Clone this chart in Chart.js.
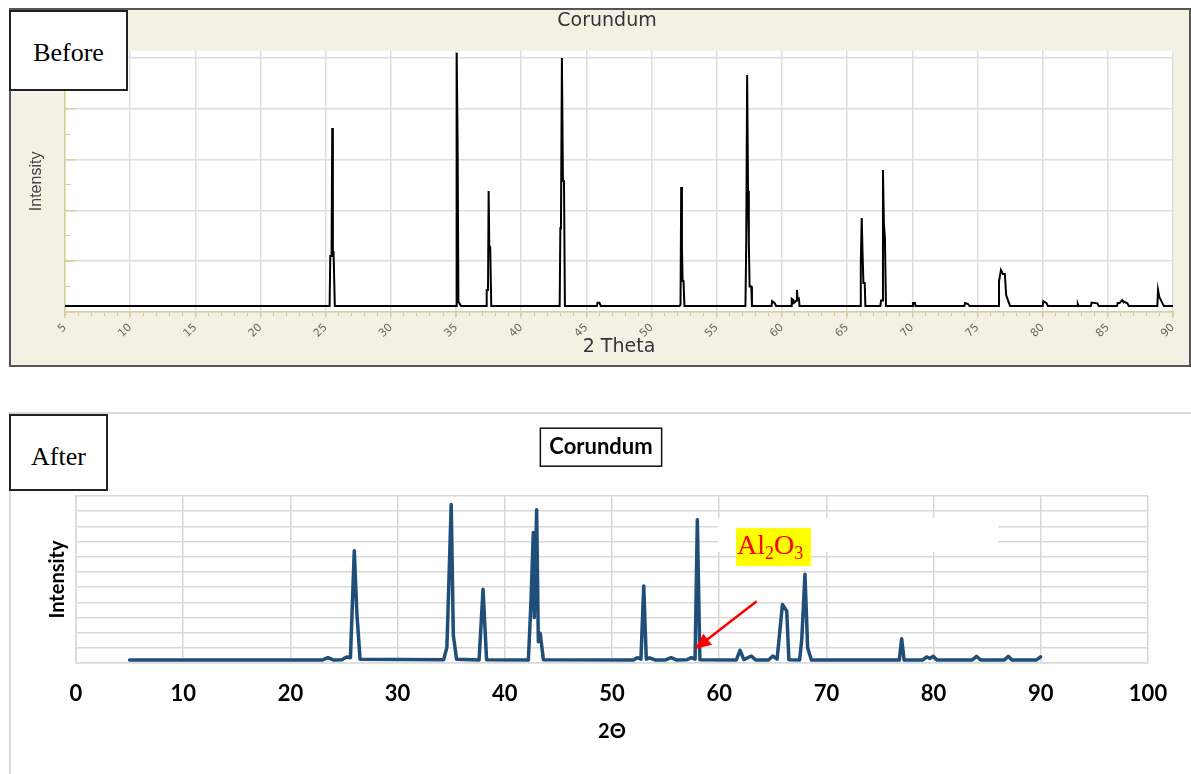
<!DOCTYPE html>
<html>
<head>
<meta charset="utf-8">
<script src="https://cdn.jsdelivr.net/npm/chart.js@4.4.1/dist/chart.umd.min.js"></script>
<style>
body { margin:0; width:1191px; height:774px; background:#fff; position:relative; overflow:hidden; }
#topBox { position:absolute; left:9px; top:8px; width:1182px; height:359px; border:2px solid #555; box-sizing:border-box; background:#f4f1e4; }
#botBox { position:absolute; left:9px; top:412px; width:1182px; height:362px; border-top:2px solid #d9d9d9; border-left:2px solid #d9d9d9; box-sizing:border-box; }
.holder { position:relative; width:100%; height:100%; }
.tag { position:absolute; border:2px solid #222; background:#fff; box-sizing:border-box; font-family:"Liberation Serif", serif; font-size:26px; display:flex; align-items:center; justify-content:center; }
#blank { position:absolute; left:718px; top:518px; width:280px; height:34px; background:#fff; }
#al2o3 { position:absolute; left:736px; top:528px; width:75px; height:38px; background:#ffff00; color:#ff0000; font-family:"Liberation Serif", serif; font-size:28px; line-height:34px; padding-left:1px; box-sizing:border-box; white-space:nowrap; }
#al2o3 sub { font-size:18px; vertical-align:-5px; line-height:0; }
</style>
</head>
<body>
<div id="topBox"><div class="holder"><canvas id="before"></canvas></div></div>
<div id="botBox"><div class="holder"><canvas id="after"></canvas></div></div>
<div class="tag" style="left:9px;top:10px;width:119px;height:81px;padding-top:5px;">Before</div>
<div class="tag" style="left:9px;top:414px;width:99px;height:77px;padding-top:9px;">After</div>
<div id="blank"></div>
<div id="al2o3">Al<sub>2</sub>O<sub>3</sub></div>
<script>
// "Before" pattern (2 theta, intensity)
var beforeTheta = [5, 25.3, 25.35, 25.45, 25.5, 25.55, 25.6, 25.7,
  35.0, 35.05, 35.12, 35.18, 35.25, 35.3, 35.38,
  37.3, 37.35, 37.45, 37.5, 37.55, 37.62, 37.7,
  42.95, 43.0, 43.05, 43.12, 43.2, 43.28, 43.35,
  45.8, 45.85, 46.0, 46.1,
  52.15, 52.22, 52.27, 52.33, 52.38, 52.45, 52.52,
  57.2, 57.26, 57.33, 57.4, 57.46, 57.52, 57.65, 57.7,
  59.2, 59.25, 59.45, 59.55,
  60.7, 60.75, 60.85, 60.9, 61.0, 61.1, 61.15, 61.2, 61.3, 61.35,
  66.0, 66.05, 66.12, 66.18, 66.25, 66.35, 66.4,
  67.55, 67.6, 67.7, 67.75, 67.82, 67.9, 67.98,
  70.0, 70.05, 70.2, 70.25,
  74.0, 74.05, 74.25, 74.4,
  76.6, 76.65, 76.8, 76.95, 77.1, 77.2, 77.35, 77.5,
  80.0, 80.05, 80.3, 80.4,
  82.65, 82.7, 82.75,
  83.7, 83.75, 84.2, 84.3,
  85.7, 85.75, 85.9, 86.1, 86.15, 86.5, 86.6,
  88.8, 88.85, 88.95, 89.15, 89.3, 90];
var beforeIntensity = [2.4, 2.4, 22, 22, 72.4, 22, 24, 2.4,
  2.4, 102, 65.7, 4, 3.5, 3.5, 2.4,
  2.4, 8.7, 8.7, 47.6, 25.6, 25.6, 2.4,
  2.4, 33, 36, 100, 51.6, 51.6, 2.4,
  2.4, 3.6, 3.6, 2.4,
  2.4, 3, 49.2, 25.6, 12.2, 12.2, 2.4,
  2.4, 27, 93.3, 47.6, 27, 10, 10, 2.4,
  2.4, 4.3, 3.5, 2.4,
  2.4, 5.2, 4.8, 3.5, 3.8, 4.5, 8.7, 5.4, 5.4, 2.4,
  2.4, 19.3, 37, 24, 11.4, 11.4, 2.4,
  2.4, 4.5, 4.5, 55.9, 35, 29, 2.4,
  2.4, 3.5, 3.5, 2.4,
  2.4, 3.5, 3.2, 2.4,
  2.4, 12, 16.5, 15, 15, 6.7, 4.5, 2.4,
  2.4, 4.3, 3.5, 2.4,
  2.4, 3.1, 2.4,
  2.4, 3.7, 3.4, 2.4,
  2.4, 3.5, 3.5, 4.7, 4.3, 3.4, 2.4,
  2.4, 8.7, 5.9, 3.9, 2.4, 2.4];

// "After" pattern
var afterTheta = [5, 23.0, 23.5, 24.0, 24.8, 25.25, 25.6, 25.96, 26.2, 26.5,
  34.3, 34.6, 35.0, 35.2, 35.5,
  37.6, 37.97, 38.3,
  42.2, 42.44, 42.66, 42.75, 42.97, 43.13, 43.3, 43.6,
  52.0, 52.36, 52.7, 52.96, 53.2, 53.5, 54.0,
  55.0, 55.5, 56.0, 57.0, 57.4, 57.75, 57.96, 58.2,
  61.6, 61.94, 62.3, 63.0, 63.4, 64.6, 65.0, 65.4, 65.9, 66.3, 66.5,
  67.5, 67.7, 68.0, 68.25, 68.6,
  76.8, 77.02, 77.25,
  79.0, 79.35, 79.65, 79.97, 80.3,
  83.6, 84.0, 84.4,
  86.6, 86.97, 87.3,
  89.6, 89.98];
var afterIntensity = [2, 2, 3.5, 2, 2.2, 4, 3.5, 74, 32.7, 2.5,
  2.2, 10.5, 104.4, 18.2, 2.5,
  2, 48.5, 2.2,
  2, 40, 86, 30, 101, 14, 19.6, 2.2,
  2, 3.5, 2.5, 50.7, 2.5, 3.4, 2,
  2, 3.5, 2, 2.2, 3.5, 2.5, 94.3, 2.2,
  2, 8.4, 2.2, 4.6, 2, 2, 4.6, 2.5, 38.6, 34.2, 2.2,
  2, 15.4, 58.4, 10.1, 2,
  2, 16, 2,
  2, 4, 3, 4.4, 2,
  2, 4.4, 2,
  2, 4.4, 2,
  2, 4];

// Al2O3 arrow, in data units (tail, tip)
var arrowFrom = [63.5, 40.6];
var arrowTo = [57.7, 9];

var tan = '#d8cf98';

var plotBackground = {
  id: 'plotBackground',
  beforeDraw: function (chart) {
    var a = chart.chartArea, ctx = chart.ctx;
    ctx.save();
    ctx.fillStyle = '#fff';
    ctx.fillRect(a.left, a.top, a.right - a.left, a.bottom - a.top);
    ctx.restore();
  }
};

// empty right-hand axis, only to keep space on the right
function spacer(w) {
  return {
    axis: 'y', position: 'right', min: 0, max: 1,
    ticks: { display: false }, grid: { display: false }, border: { display: false },
    afterFit: function (s) { s.width = w; }
  };
}

new Chart(document.getElementById('before'), {
  type: 'line',
  data: {
    datasets: [{
      data: beforeTheta.map(function (t, i) { return { x: t, y: beforeIntensity[i] }; }),
      borderColor: '#000',
      borderWidth: 2,
      pointRadius: 0,
      fill: false,
      tension: 0
    }]
  },
  options: {
    responsive: true,
    maintainAspectRatio: false,
    animation: false,
    layout: { padding: { left: 14, right: 0, top: 0, bottom: 0 } },
    plugins: {
      legend: { display: false },
      tooltip: { enabled: false },
      title: {
        display: true, text: 'Corundum', color: '#333',
        font: { family: 'DejaVu Sans', size: 19, weight: 'normal' },
        padding: { top: 0, bottom: 18 }
      }
    },
    scales: {
      x: {
        type: 'linear', min: 5, max: 90, weight: 0,
        ticks: { stepSize: 5, minRotation: 45, maxRotation: 45, padding: 3, color: '#666', font: { family: 'DejaVu Sans', size: 11 } },
        grid: { color: '#dedede', lineWidth: 1.5, tickColor: tan, tickLength: 6 },
        border: { color: tan, width: 1.5 },
        title: { display: true, text: '2 Theta', color: '#333', font: { family: 'DejaVu Sans', size: 19 }, padding: { top: 0, bottom: 7 } },
        afterFit: function (s) { s.height = 53; }
      },
      x2: {
        type: 'linear', axis: 'x', position: 'bottom', min: 5, max: 90, weight: -1,
        ticks: { stepSize: 1, display: false },
        grid: { drawOnChartArea: false, tickColor: tan, tickLength: 4 },
        border: { display: false },
        afterFit: function (s) { s.height = 0; }
      },
      y: {
        min: 0, max: 102.8, weight: 0,
        ticks: { stepSize: 20, display: false, includeBounds: false },
        grid: { color: '#dedede', lineWidth: 1.5, tickColor: tan, tickLength: -10 },
        border: { color: tan, width: 1.5 },
        title: { display: true, text: 'Intensity', color: '#444', font: { family: 'Liberation Sans', size: 16 }, padding: { top: 2, bottom: 0 } },
        afterFit: function (s) { s.width = 40; }
      },
      y2: {
        axis: 'y', position: 'left', min: 0, max: 102.8, weight: -1,
        ticks: { stepSize: 10, display: false, includeBounds: false },
        grid: { drawOnChartArea: false, tickColor: tan, tickLength: -6 },
        border: { display: false },
        afterFit: function (s) { s.width = 0; }
      },
      pad: spacer(16)
    }
  },
  plugins: [plotBackground]
});

var titleFrame = {
  id: 'titleFrame',
  afterDraw: function (chart) {
    var t = chart.titleBlock, ctx = chart.ctx;
    var opt = chart.options.plugins.title;
    ctx.save();
    ctx.font = 'bold ' + opt.font.size + 'px ' + opt.font.family;
    var w = ctx.measureText(opt.text).width + 18;
    var h = 38;
    var cx = (t.left + t.right) / 2;
    var cy = t.top + opt.padding.top + opt.font.size * 0.6;
    ctx.strokeStyle = '#111';
    ctx.lineWidth = 1.5;
    ctx.strokeRect(cx - w / 2, cy - h / 2, w, h);
    ctx.restore();
  }
};

var arrow = {
  id: 'arrow',
  afterDatasetsDraw: function (chart) {
    var ctx = chart.ctx, xs = chart.scales.x, ys = chart.scales.y;
    var x1 = xs.getPixelForValue(arrowFrom[0]), y1 = ys.getPixelForValue(arrowFrom[1]);
    var x2 = xs.getPixelForValue(arrowTo[0]), y2 = ys.getPixelForValue(arrowTo[1]);
    var ang = Math.atan2(y2 - y1, x2 - x1);
    var head = 18;
    ctx.save();
    ctx.strokeStyle = '#ff0000';
    ctx.fillStyle = '#ff0000';
    ctx.lineWidth = 2.5;
    ctx.beginPath();
    ctx.moveTo(x1, y1);
    ctx.lineTo(x2 - head * 0.8 * Math.cos(ang), y2 - head * 0.8 * Math.sin(ang));
    ctx.stroke();
    ctx.beginPath();
    ctx.moveTo(x2, y2);
    ctx.lineTo(x2 - head * Math.cos(ang - 0.4), y2 - head * Math.sin(ang - 0.4));
    ctx.lineTo(x2 - head * Math.cos(ang + 0.4), y2 - head * Math.sin(ang + 0.4));
    ctx.closePath();
    ctx.fill();
    ctx.restore();
  }
};

new Chart(document.getElementById('after'), {
  type: 'line',
  data: {
    datasets: [{
      data: afterTheta.map(function (t, i) { return { x: t, y: afterIntensity[i] }; }),
      borderColor: '#1f4e79',
      borderWidth: 3.5,
      borderJoinStyle: 'round',
      borderCapStyle: 'round',
      pointRadius: 0,
      fill: false,
      tension: 0
    }]
  },
  options: {
    responsive: true,
    maintainAspectRatio: false,
    animation: false,
    layout: { padding: { left: 0, right: 0, top: 0, bottom: 0 } },
    plugins: {
      legend: { display: false },
      tooltip: { enabled: false },
      title: {
        display: true, text: 'Corundum', color: '#000',
        font: { family: 'Lato', size: 22, weight: 'bold' },
        padding: { top: 20, bottom: 35.6 }
      }
    },
    scales: {
      x: {
        type: 'linear', min: 0, max: 100,
        ticks: { stepSize: 10, padding: 18, color: '#000', font: { family: 'Lato', size: 22, weight: 'bold' } },
        grid: { color: '#d9d9d9', lineWidth: 1.5, drawTicks: false },
        border: { color: '#d9d9d9', width: 1.5 },
        title: { display: true, text: '2Θ', color: '#000', font: { family: 'Lato', size: 20, weight: 'bold' }, padding: { top: 0, bottom: 30 } },
        afterFit: function (s) { s.height = 111; }
      },
      y: {
        min: 0, max: 110,
        ticks: { stepSize: 10, display: false },
        grid: { color: '#d9d9d9', lineWidth: 1.5, drawTicks: false },
        border: { color: '#d9d9d9', width: 1.5 },
        title: { display: true, text: 'Intensity', color: '#000', font: { family: 'Lato', size: 20, weight: 'bold' }, padding: { top: 35, bottom: 0 } },
        afterFit: function (s) { s.width = 65; }
      },
      pad: spacer(43)
    }
  },
  plugins: [titleFrame, arrow]
});
</script>
</body>
</html>
